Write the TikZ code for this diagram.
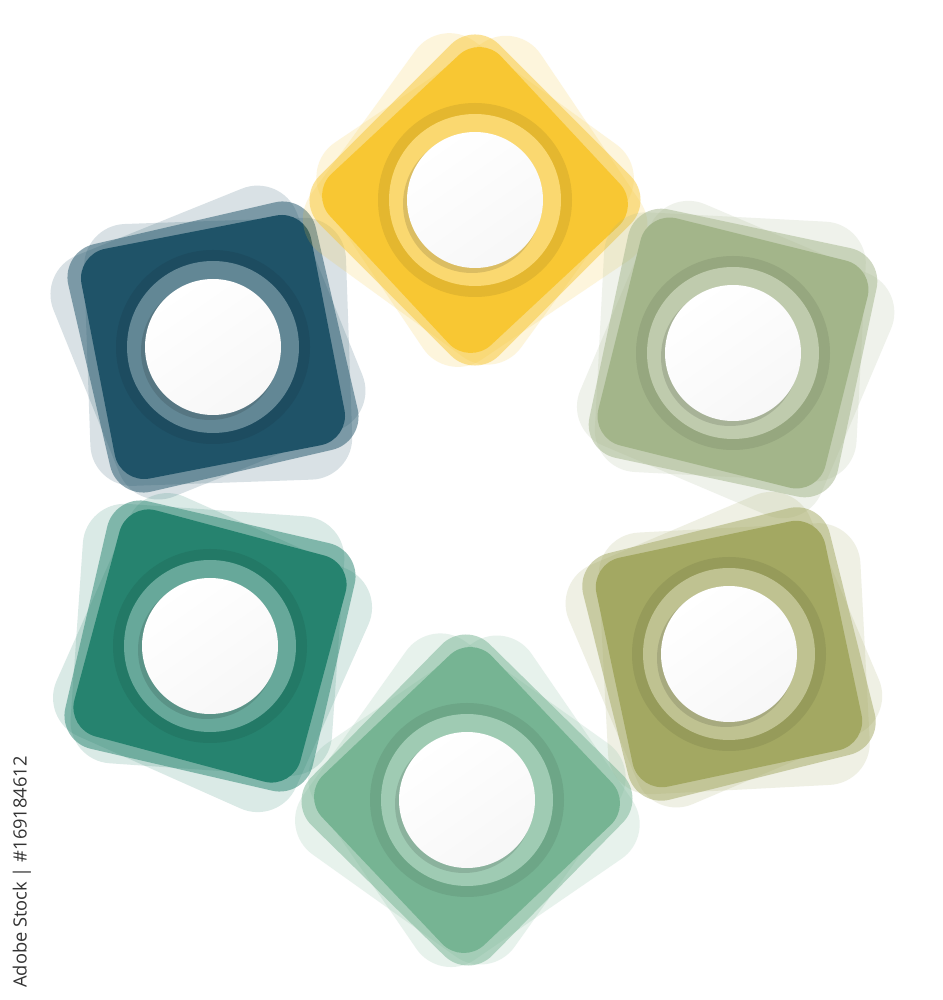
\documentclass[tikz,border=0pt]{standalone}
\usepackage{fontspec}
\newfontfamily\stockfont{Open Sans}
\usetikzlibrary{positioning}
\definecolor{tileYellow}{HTML}{F8C733}
\definecolor{tileBlue}{HTML}{1F5368}
\definecolor{tileSage}{HTML}{A3B58A}
\definecolor{tileOlive}{HTML}{A3A862}
\definecolor{tileGreen}{HTML}{76B493}
\definecolor{tileTeal}{HTML}{26836F}
\definecolor{stockInk}{HTML}{333333}
\tikzset{
  tilehalo/.style={fill=#1, opacity=.17, rounded corners=4.2mm},
  tileedge/.style={fill=#1, opacity=.5, rounded corners=3.4mm},
  tilebody/.style={fill=#1, rounded corners=3mm},
  ringdark/.style={fill=#1!92!black},
  ringlight/.style={fill=#1!70!white},
  dotshadow/.style={fill=black, opacity=.12},
  dotface/.style={top color=white, bottom color=black!3, shading angle=35},
  stocklabel/.style={font=\stockfont\fontsize{5.2}{6}\selectfont, text=stockInk, rotate=90, inner sep=0pt}
}

\begin{document}
\begin{tikzpicture}[x=0.1mm, y=0.1mm]

\useasboundingbox[fill=white] (0,0) rectangle (943,1000);

% six tiles round the ring: centre x / centre y / tilt / colour
\foreach \cx/\cy/\ang/\col in {213/653/11/tileBlue, 475/800/43/tileYellow, 733/647/-14/tileSage,
                               729/346/12/tileOlive, 467/200/43.5/tileGreen, 210/354/-15/tileTeal} {
  \begin{scope}[shift={(\cx,\cy)}, rotate=\ang]
    \fill[tilehalo=\col, rotate=11] (-134,-124) rectangle (128,136);
    \fill[tilehalo=\col, rotate=-9] (-126,-136) rectangle (136,126);
    \fill[tileedge=\col, rotate=2] (-127,-127) rectangle (127,127);
    \fill[tilebody=\col] (-117,-117) rectangle (117,117);
  \end{scope}
  % rings and the white dot
  \fill[ringdark=\col] (\cx,\cy) circle (97);
  \fill[ringlight=\col] (\cx,\cy) circle (86);
  \fill[dotshadow] ({\cx-3},{\cy-4}) circle (69);
  \shade[dotface] (\cx,\cy) circle (68);
}

\node[stocklabel] (stockid) at (22,128) {Adobe Stock | \#169184612};

\end{tikzpicture}
\end{document}
